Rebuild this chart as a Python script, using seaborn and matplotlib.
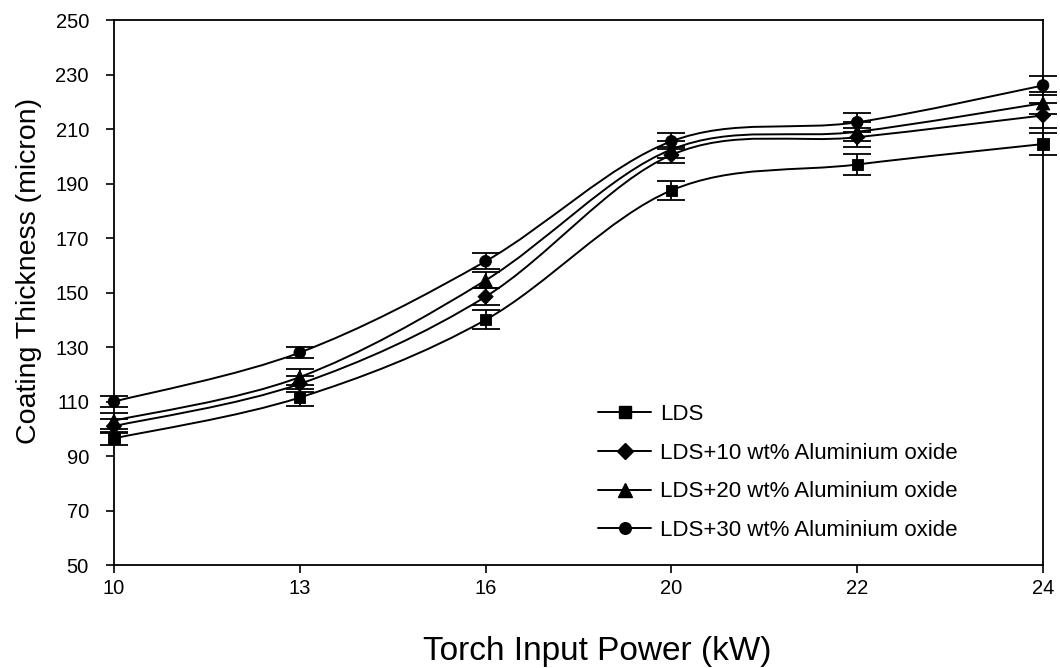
import numpy as np
import pandas as pd
import seaborn as sns
import matplotlib.pyplot as plt
from matplotlib.path import Path
from matplotlib.patches import PathPatch
from matplotlib.lines import Line2D

# Data
power = ["10", "13", "16", "20", "22", "24"]  # kW, plotted as evenly spaced categories
series = ["LDS", "LDS+10 wt% Aluminium oxide", "LDS+20 wt% Aluminium oxide", "LDS+30 wt% Aluminium oxide"]
lds = [96.5, 111.5, 140, 187.5, 197, 204.5]
lds10 = [101, 116.5, 148.5, 200.5, 207, 215]
lds20 = [103, 119, 154.5, 202.5, 209, 219.5]
lds30 = [110, 128, 161.5, 205.5, 212.5, 226]
err_lds = [2.5, 3, 3.5, 3.5, 4, 4]
err_lds10 = [2.5, 3, 3, 3, 3.5, 4.5]
err_lds20 = [3, 3, 3, 3, 3.5, 4]
err_lds30 = [2, 2, 3, 3, 3.5, 3.5]
markers = ["s", "D", "^", "o"]
marker_sizes = [65, 60, 95, 70]

values = [lds, lds10, lds20, lds30]
errors = [err_lds, err_lds10, err_lds20, err_lds30]
xpos = np.arange(len(power))

df = pd.DataFrame({
    "x": np.tile(xpos, len(series)),
    "thickness": np.concatenate(values),
    "err": np.concatenate(errors),
    "series": np.repeat(series, len(power)),
})


def smooth_path(x, y, t=1 / 6):
    # Catmull-Rom style cubic Bezier through the points (Excel "smoothed line")
    pts = np.column_stack([x, y]).astype(float)
    padded = np.vstack([pts[0], pts, pts[-1]])
    verts = [pts[0]]
    codes = [Path.MOVETO]
    for i in range(len(pts) - 1):
        p0, p1, p2, p3 = padded[i], padded[i + 1], padded[i + 2], padded[i + 3]
        verts += [p1 + (p2 - p0) * t, p2 - (p3 - p1) * t, p2]
        codes += [Path.CURVE4] * 3
    return Path(verts, codes)


sns.set_style("white")
plt.rcParams["font.family"] = ["Liberation Sans", "DejaVu Sans"]
plt.rcParams["text.color"] = "black"
plt.rcParams["axes.labelcolor"] = "black"

fig = plt.figure(figsize=(10.6, 6.68), dpi=100)
ax = fig.add_axes([0.1075, 0.154, 0.8765, 0.816])

for name, mk in zip(series, markers):
    sub = df[df.series == name]
    ax.add_patch(PathPatch(smooth_path(sub.x, sub.thickness), fill=False,
                           edgecolor="black", lw=1.4, zorder=2))
    ax.errorbar(sub.x, sub.thickness, yerr=sub.err, fmt="none", ecolor="black",
                elinewidth=1.3, capsize=10, capthick=1.3, zorder=3, clip_on=False)

sns.scatterplot(data=df, x="x", y="thickness", style="series", markers=markers,
                style_order=series, size="series", size_order=series,
                sizes=dict(zip(series, marker_sizes)), color="black",
                edgecolor="black", legend=False, ax=ax, zorder=4, clip_on=False)

ax.set_xlim(xpos[0], xpos[-1])
ax.set_ylim(50, 250)
ax.set_xticks(xpos)
ax.set_xticklabels(power)
ax.set_yticks(np.arange(50, 251, 20))
ax.tick_params(axis="both", direction="out", length=6, width=1.2, labelsize=14.5,
               colors="black", bottom=True, left=True)
ax.tick_params(axis="x", pad=4)
ax.tick_params(axis="y", pad=12)
for sp in ax.spines.values():
    sp.set_color("black")
    sp.set_linewidth(1.3)

ax.set_xlabel("Torch Input Power (kW)", fontsize=24, color="black")
ax.set_ylabel("Coating Thickness (micron)", fontsize=20.5, color="black")
ax.xaxis.set_label_coords(0.52, -0.13)
ax.yaxis.set_label_coords(-0.077, 0.54)

handles = [Line2D([], [], color="black", lw=1.4, marker=mk, markersize=ms ** 0.5)
           for mk, ms in zip(markers, marker_sizes)]
leg = ax.legend(handles, series, loc="upper left", bbox_to_anchor=(0.521, 0.296),
                frameon=False, fontsize=16, handlelength=2.4, handletextpad=0.4,
                labelspacing=0.8, borderpad=0, borderaxespad=0)
for txt in leg.get_texts():
    txt.set_color("black")

fig.savefig("out.png", dpi=100)
